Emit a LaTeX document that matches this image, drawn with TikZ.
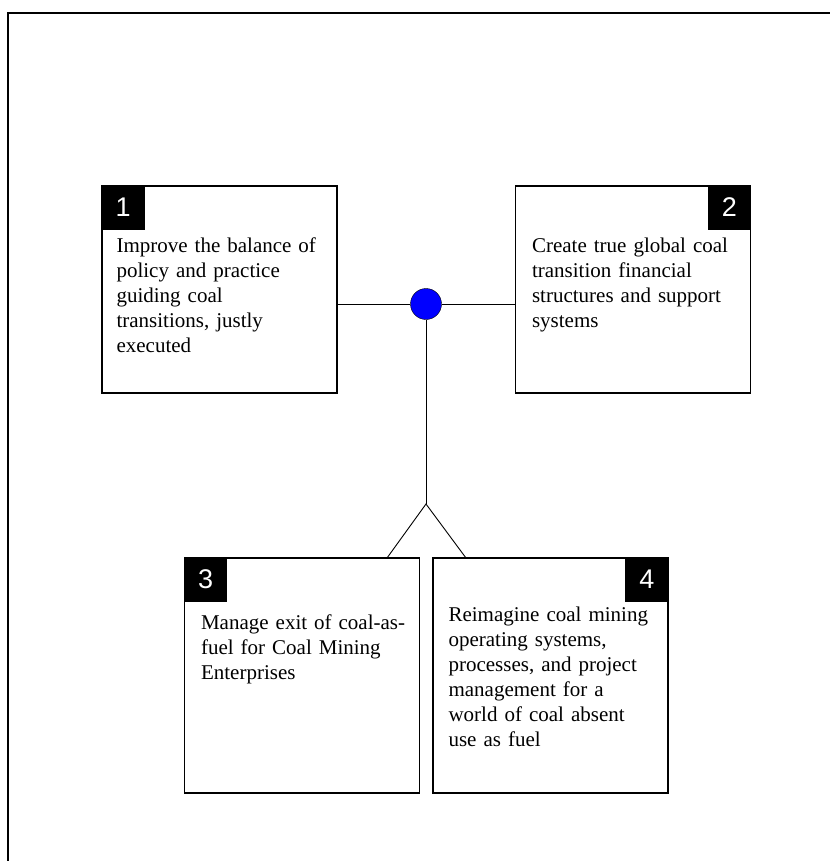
\documentclass[tikz,border=0pt]{standalone}
\usepackage{fontspec}
\setmainfont{Liberation Serif}
\newfontfamily\tabfont{Liberation Sans}
\tikzset{every picture/.style = {x=1pt, y=-1pt}}
\tikzset{goal/.style = {draw, line width=1.3pt, minimum width=235pt, minimum height=207pt, inner sep=0}}
\tikzset{tab/.style = {fill=black, text=white, minimum width=43pt, minimum height=44pt, inner sep=0, font=\tabfont\fontsize{27}{27}\selectfont}}
\tikzset{txt/.style = {anchor=north west, inner sep=0, align=left, text width=228pt, font=\fontsize{21}{25}\selectfont}}
\tikzset{link/.style = {line width=0.9pt}}

\begin{document}
\begin{tikzpicture}
  \useasboundingbox (0, 0) rectangle (830, 861);
  \draw[line width=1.5pt] (8, 861) -- (8, 13) -- (830, 13);
  % the four goals
  \node[goal] (g1) at (219.5, 289.5) {};
  \node[goal] (g2) at (633, 289.5) {};
  \node[goal, minimum height=235pt] (g3) at (302, 675.5) {};
  \node[goal, minimum height=235pt] (g4) at (550.5, 675.5) {};
  \node[tab, anchor=north west] (n1) at (g1.north west) {1};
  \node[tab, anchor=north east] (n2) at (g2.north east) {2};
  \node[tab, anchor=north west] (n3) at (g3.north west) {3};
  \node[tab, anchor=north east] (n4) at (g4.north east) {4};
  \node[txt] (t1) at ([shift={(15, 52)}]g1.north west)
    {Improve the balance of\\ policy and practice\\ guiding coal\\ transitions, justly\\ executed};
  \node[txt] (t2) at ([shift={(17, 52)}]g2.north west)
    {Create true global coal\\ transition financial\\ structures and support\\ systems};
  \node[txt] (t3) at ([shift={(17, 57)}]g3.north west)
    {Manage exit of coal-as-\\ fuel for Coal Mining\\ Enterprises};
  \node[txt] (t4) at ([shift={(16, 49)}]g4.north west)
    {Reimagine coal mining\\ operating systems,\\ processes, and project\\ management for a\\ world of coal absent\\ use as fuel};
  % hub and fork
  \node[circle, draw, fill=blue, minimum size=31pt, inner sep=0] (hub) at (426, 304) {};
  \coordinate (fork) at (426, 504);
  \coordinate (c3) at (387, 558);
  \coordinate (c4) at (466, 558);
  \draw[link] (g1.east |- hub) -- (hub);
  \draw[link] (hub) -- (g2.west |- hub);
  \draw[link] (hub) -- (fork);
  \draw[link] (c3) -- (fork) -- (c4);
\end{tikzpicture}
\end{document}
